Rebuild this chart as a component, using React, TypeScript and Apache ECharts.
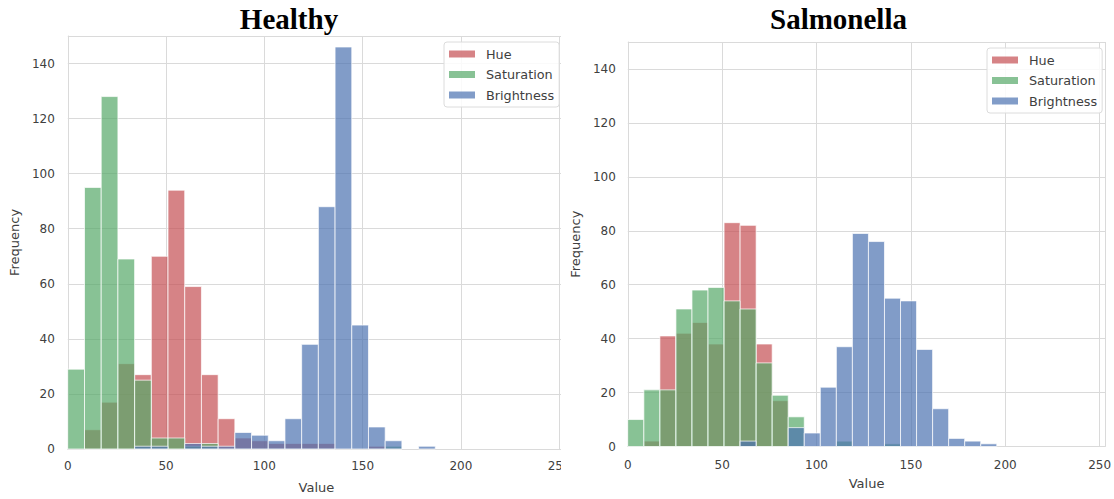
import React, { useEffect, useRef } from "react";
import * as echarts from "echarts";

// Histogram bins: 30 equal bins over 0..255
const BIN_WIDTH = 8.5;

const SERIES_NAMES = ["Hue", "Saturation", "Brightness"];
const SERIES_COLORS = ["#C44E52", "#55A868", "#4C72B0"];

// Healthy sample counts per bin
const HEALTHY_HUE = [0, 7, 17, 31, 27, 70, 94, 59, 27, 11, 4, 3, 2, 2, 2, 2, 0, 0, 1, 0, 0, 0, 0, 0, 0, 0, 0, 0, 0, 0];
const HEALTHY_SATURATION = [29, 95, 128, 69, 25, 4, 4, 1, 2, 0, 0, 0, 0, 0, 0, 0, 0, 0, 0, 1, 0, 0, 0, 0, 0, 0, 0, 0, 0, 0];
const HEALTHY_BRIGHTNESS = [0, 0, 0, 0, 1, 1, 0, 2, 1, 1, 6, 5, 3, 11, 38, 88, 146, 45, 8, 3, 0, 1, 0, 0, 0, 0, 0, 0, 0, 0];

// Salmonella sample counts per bin
const SALMONELLA_HUE = [0, 2, 41, 42, 46, 38, 83, 82, 38, 17, 0, 0, 0, 0, 0, 0, 0, 0, 0, 0, 0, 0, 0, 0, 0, 0, 0, 0, 0, 0];
const SALMONELLA_SATURATION = [10, 21, 21, 51, 58, 59, 54, 51, 31, 19, 11, 0, 0, 2, 0, 0, 1, 0, 0, 0, 0, 0, 0, 0, 0, 0, 0, 0, 0, 0];
const SALMONELLA_BRIGHTNESS = [0, 0, 0, 0, 0, 0, 0, 2, 0, 0, 7, 5, 22, 37, 79, 76, 55, 54, 36, 14, 3, 2, 1, 0, 0, 0, 0, 0, 0, 0];

const X_TICK_STEP = 50;
const Y_TICK_STEP = 20;
const Y_MAX = 150;
const X_MAX = 253;

const TICK_FONT = "DejaVu Sans";
const TICK_COLOR = "#404040";
const GRID_COLOR = "#dadada";

type PanelConfig = {
  title: string;
  titleX: number;
  counts: number[][];
  grid: { left: number; top: number; width: number; height: number };
  legend: { left?: number; right?: number; top: number };
  xLabelMargin: number;
  yLabelMargin: number;
  xNameGap: number;
  yNameGap: number;
};

function histogramSeries(counts: number[], name: string, color: string) {
  const data = counts.map((c, i) => [i * BIN_WIDTH, (i + 1) * BIN_WIDTH, c]);
  return {
    type: "custom",
    name,
    data,
    encode: { x: [0, 1], y: 2 },
    itemStyle: { color, opacity: 0.7 },
    renderItem: (params: any, api: any) => {
      const count = api.value(2);
      if (!count) return null;
      const topLeft = api.coord([api.value(0), count]);
      const bottomRight = api.coord([api.value(1), 0]);
      return {
        type: "rect",
        shape: {
          x: topLeft[0],
          y: topLeft[1],
          width: bottomRight[0] - topLeft[0],
          height: bottomRight[1] - topLeft[1],
        },
        style: { fill: color, stroke: "#ffffff", lineWidth: 1, opacity: 0.7 },
      };
    },
  };
}

function buildOption(cfg: PanelConfig) {
  return {
    animation: false,
    grid: { ...cfg.grid, containLabel: false },
    graphic: [
      {
        type: "text",
        x: cfg.titleX,
        y: 18.5,
        style: {
          text: cfg.title,
          font: "bold 29px 'Liberation Serif', 'Times New Roman', serif",
          fill: "#000000",
          align: "center",
          verticalAlign: "middle",
        },
      },
    ],
    legend: {
      ...cfg.legend,
      orient: "vertical",
      data: SERIES_NAMES,
      icon: "rect",
      itemWidth: 26,
      itemHeight: 7,
      itemGap: 6.5,
      padding: [5, 5, 5, 5],
      backgroundColor: "rgba(255,255,255,0.85)",
      borderColor: "#dcdcdc",
      borderWidth: 1,
      borderRadius: 3,
      selectedMode: false,
      textStyle: {
        fontFamily: TICK_FONT,
        fontSize: 12.8,
        color: TICK_COLOR,
        lineHeight: 14,
        padding: [0, 0, 0, 6],
      },
    },
    xAxis: {
      type: "value",
      min: 0,
      max: X_MAX,
      interval: X_TICK_STEP,
      name: "Value",
      nameLocation: "middle",
      nameGap: cfg.xNameGap,
      nameTextStyle: { fontFamily: TICK_FONT, fontSize: 13, color: TICK_COLOR },
      axisLine: { show: true, lineStyle: { color: GRID_COLOR, width: 1 } },
      axisTick: { show: false },
      axisLabel: {
        showMaxLabel: false,
        margin: cfg.xLabelMargin,
        fontFamily: TICK_FONT,
        fontSize: 12,
        color: TICK_COLOR,
      },
      splitLine: { show: true, lineStyle: { color: GRID_COLOR, width: 1 } },
    },
    yAxis: {
      type: "value",
      min: 0,
      max: Y_MAX,
      interval: Y_TICK_STEP,
      name: "Frequency",
      nameLocation: "middle",
      nameGap: cfg.yNameGap,
      nameTextStyle: { fontFamily: TICK_FONT, fontSize: 13, color: TICK_COLOR },
      axisLine: { show: true, lineStyle: { color: GRID_COLOR, width: 1 } },
      axisTick: { show: false },
      axisLabel: {
        showMaxLabel: false,
        margin: cfg.yLabelMargin,
        fontFamily: TICK_FONT,
        fontSize: 12,
        color: TICK_COLOR,
      },
      splitLine: { show: true, lineStyle: { color: GRID_COLOR, width: 1 } },
    },
    series: SERIES_NAMES.map((name, i) => histogramSeries(cfg.counts[i], name, SERIES_COLORS[i])),
  };
}

const HEALTHY_PANEL: PanelConfig = {
  title: "Healthy",
  titleX: 289,
  counts: [HEALTHY_HUE, HEALTHY_SATURATION, HEALTHY_BRIGHTNESS],
  grid: { left: 67, top: 36, width: 498, height: 414 },
  legend: { left: 444, top: 42 },
  xLabelMargin: 11,
  yLabelMargin: 13,
  xNameGap: 32,
  yNameGap: 44,
};

const SALMONELLA_PANEL: PanelConfig = {
  title: "Salmonella",
  titleX: 277.5,
  counts: [SALMONELLA_HUE, SALMONELLA_SATURATION, SALMONELLA_BRIGHTNESS],
  grid: { left: 59, top: 42, width: 486, height: 404.5 },
  legend: { left: 426, top: 48 },
  xLabelMargin: 12,
  yLabelMargin: 12,
  xNameGap: 30,
  yNameGap: 41,
};

function Panel({ cfg, width, height }: { cfg: PanelConfig; width: number; height: number }) {
  const ref = useRef<HTMLDivElement>(null);
  useEffect(() => {
    if (!ref.current) return;
    const chart = echarts.init(ref.current, undefined, { renderer: "svg" });
    chart.setOption(buildOption(cfg) as any);
    return () => chart.dispose();
  }, [cfg]);
  return <div ref={ref} style={{ width, height }} />;
}

export default function App() {
  return (
    <div style={{ position: "fixed", left: 0, top: 0, width: 1114, height: 499, background: "#ffffff" }}>
      <div style={{ position: "absolute", left: 0, top: 0, width: 561, height: 499, overflow: "hidden" }}>
        <Panel cfg={HEALTHY_PANEL} width={600} height={499} />
      </div>
      <div style={{ position: "absolute", left: 561, top: 0, width: 553, height: 499 }}>
        <Panel cfg={SALMONELLA_PANEL} width={553} height={499} />
      </div>
    </div>
  );
}
